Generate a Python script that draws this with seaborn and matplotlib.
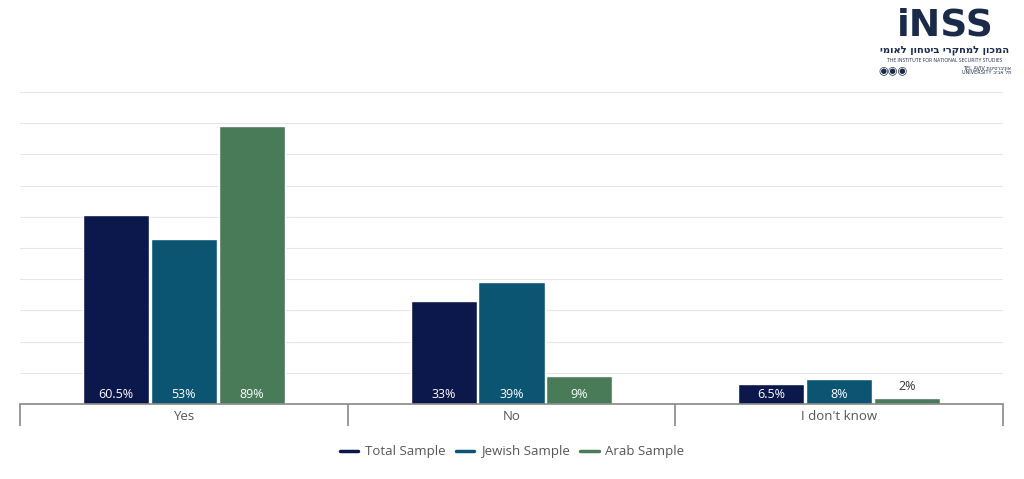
import pandas as pd
import matplotlib.pyplot as plt
import seaborn as sns
from matplotlib.lines import Line2D

# data
answers = ['Yes', 'No', "I don't know"]
samples = ['Total Sample', 'Jewish Sample', 'Arab Sample']
total_vals = [60.5, 33, 6.5]
jewish_vals = [53, 39, 8]
arab_vals = [89, 9, 2]
value_labels = [['60.5%', '33%', '6.5%'], ['53%', '39%', '8%'], ['89%', '9%', '2%']]
colors = ['#0c184c', '#0b5573', '#4a7b59']

rows = []
for s, vals in zip(samples, [total_vals, jewish_vals, arab_vals]):
    for a, v in zip(answers, vals):
        rows.append({'answer': a, 'sample': s, 'value': v})
df = pd.DataFrame(rows)

sns.set_theme(style='white')
plt.rcParams['font.family'] = ['Open Sans', 'DejaVu Sans']

fig = plt.figure(figsize=(10.24, 4.79), dpi=100)
ax = fig.add_axes([20 / 1024, 1 - 404 / 479, 983 / 1024, 312 / 479])

sns.barplot(data=df, x='answer', y='value', hue='sample', palette=colors,
            width=0.62, gap=0.025, ax=ax, legend=False, saturation=1)

ax.set_ylim(0, 100)
ax.set_xlim(-0.5, 2.5)
ax.set_yticks(range(0, 101, 10))
ax.set_yticklabels([])
ax.yaxis.grid(True, color='#e6e6e6', linewidth=0.8)
ax.set_axisbelow(True)
for side in ['top', 'right', 'left']:
    ax.spines[side].set_visible(False)
ax.spines['bottom'].set_color('#888888')
ax.spines['bottom'].set_linewidth(1.2)
ax.tick_params(axis='y', length=0)
ax.tick_params(axis='x', which='major', length=0, pad=4, labelsize=9.5, labelcolor='#555555')
ax.set_xticks([-0.5, 0.5, 1.5, 2.5], minor=True)
ax.tick_params(axis='x', which='minor', length=16, width=1.2, color='#888888', bottom=True)
ax.set_xlabel('')
ax.set_ylabel('')

# value labels
for cont, labs in zip(ax.containers, value_labels):
    for bar, lab in zip(cont, labs):
        x = bar.get_x() + bar.get_width() / 2
        h = bar.get_height()
        if h >= 5:
            ax.text(x, 3, lab, ha='center', va='center', color='white', fontsize=9)
        else:
            ax.text(x, h + 1.5, lab, ha='center', va='bottom', color='#333333', fontsize=9)

# legend
handles = [Line2D([0], [0], color=c, lw=2.5) for c in colors]
fig.legend(handles, samples, loc='center', bbox_to_anchor=(0.5, 1 - 452 / 479), ncol=3,
           frameon=False, fontsize=9.5, labelcolor='#555555', handlelength=1.4,
           handletextpad=0.5, columnspacing=0.8)

# INSS logo
logo = '#1b2a48'
fig.text(945 / 1024, 1 - 44 / 479, 'iNSS', ha='center', va='bottom', fontsize=27,
         fontweight='bold', color=logo, family=['DejaVu Sans'])
fig.text(945 / 1024, 1 - 50 / 479, 'המכון למחקרי ביטחון לאומי'[::-1], ha='center', va='center',
         fontsize=7.2, fontweight='bold', color=logo, family=['DejaVu Sans'])
fig.text(945 / 1024, 1 - 60 / 479, 'THE INSTITUTE FOR NATIONAL SECURITY STUDIES', ha='center',
         va='center', fontsize=3.6, color=logo)
fig.text(878 / 1024, 1 - 71 / 479, '◉◉◉', ha='left', va='center', fontsize=8, color=logo,
         family=['DejaVu Sans'])
fig.text(1011 / 1024, 1 - 68 / 479, 'TEL AVIV ' + 'אוניברסיטת'[::-1], ha='right', va='center',
         fontsize=3.6, color=logo, family=['DejaVu Sans'])
fig.text(1011 / 1024, 1 - 73 / 479, 'UNIVERSITY ' + 'תל אביב'[::-1], ha='right', va='center',
         fontsize=3.6, color=logo, family=['DejaVu Sans'])

fig.savefig('out.png', dpi=100)
